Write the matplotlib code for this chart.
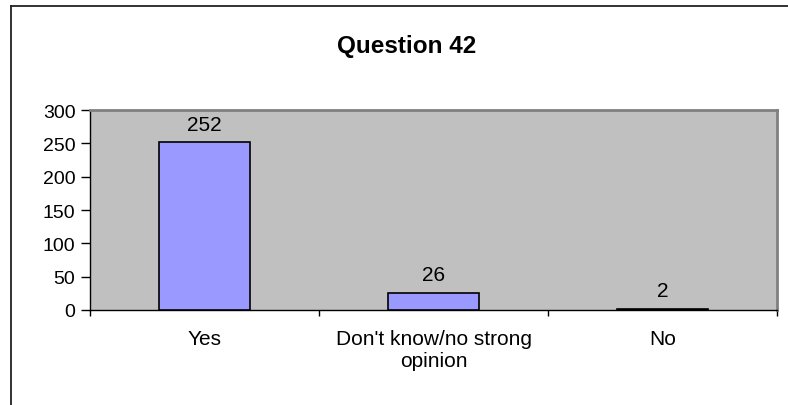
import matplotlib.pyplot as plt
from matplotlib.lines import Line2D
import numpy as np

plt.rcParams['font.family'] = ['Liberation Sans', 'DejaVu Sans']

categories = ['Yes', "Don't know/no strong\nopinion", 'No']
counts = [252, 26, 2]
y_ticks = [0, 50, 100, 150, 200, 250, 300]

W, H = 788, 406
fig = plt.figure(figsize=(W / 100, H / 100), dpi=100)

# outer chart border (only top and left visible)
fig.add_artist(Line2D([11 / W, 11 / W], [0, 1 - 7 / H], color='#222222', lw=1.3))
fig.add_artist(Line2D([11 / W, 1], [1 - 7 / H, 1 - 7 / H], color='#222222', lw=1.3))

# plot area in pixel coords
x0, x1, y0, y1 = 90, 777, 111, 311
ax = fig.add_axes([x0 / W, 1 - y1 / H, (x1 - x0) / W, (y1 - y0) / H])
ax.set_facecolor('#C0C0C0')

x = np.arange(len(categories))
ax.bar(x, counts, width=0.4, color='#9999FF', edgecolor='black', linewidth=1.2, zorder=3)
for xi, v in zip(x, counts):
    ax.annotate(str(v), (xi, v), xytext=(0, 6), textcoords='offset points',
                ha='center', va='bottom', fontsize=15)

ax.set_xlim(-0.5, len(categories) - 0.5)
ax.set_ylim(0, 300)
ax.set_yticks(y_ticks)
ax.tick_params(axis='y', direction='out', length=6.5, width=1, labelsize=14, pad=4)

# category boundary ticks on x axis, labels in the middle
ax.set_xticks(np.arange(len(categories) + 1) - 0.5)
ax.set_xticklabels([])
ax.set_xticks(x, minor=True)
ax.set_xticklabels(categories, minor=True, fontsize=15)
ax.tick_params(axis='x', which='major', direction='out', length=4.5, width=1)
ax.tick_params(axis='x', which='minor', length=0, pad=14)

for s in ['top', 'right']:
    ax.spines[s].set_color('#808080')
    ax.spines[s].set_linewidth(2)
for s in ['left', 'bottom']:
    ax.spines[s].set_color('black')
    ax.spines[s].set_linewidth(1)

fig.text(407 / W, 1 - 46 / H, 'Question 42', ha='center', va='center',
         fontsize=17.5, fontweight='bold')

fig.savefig('out.png', dpi=100)
